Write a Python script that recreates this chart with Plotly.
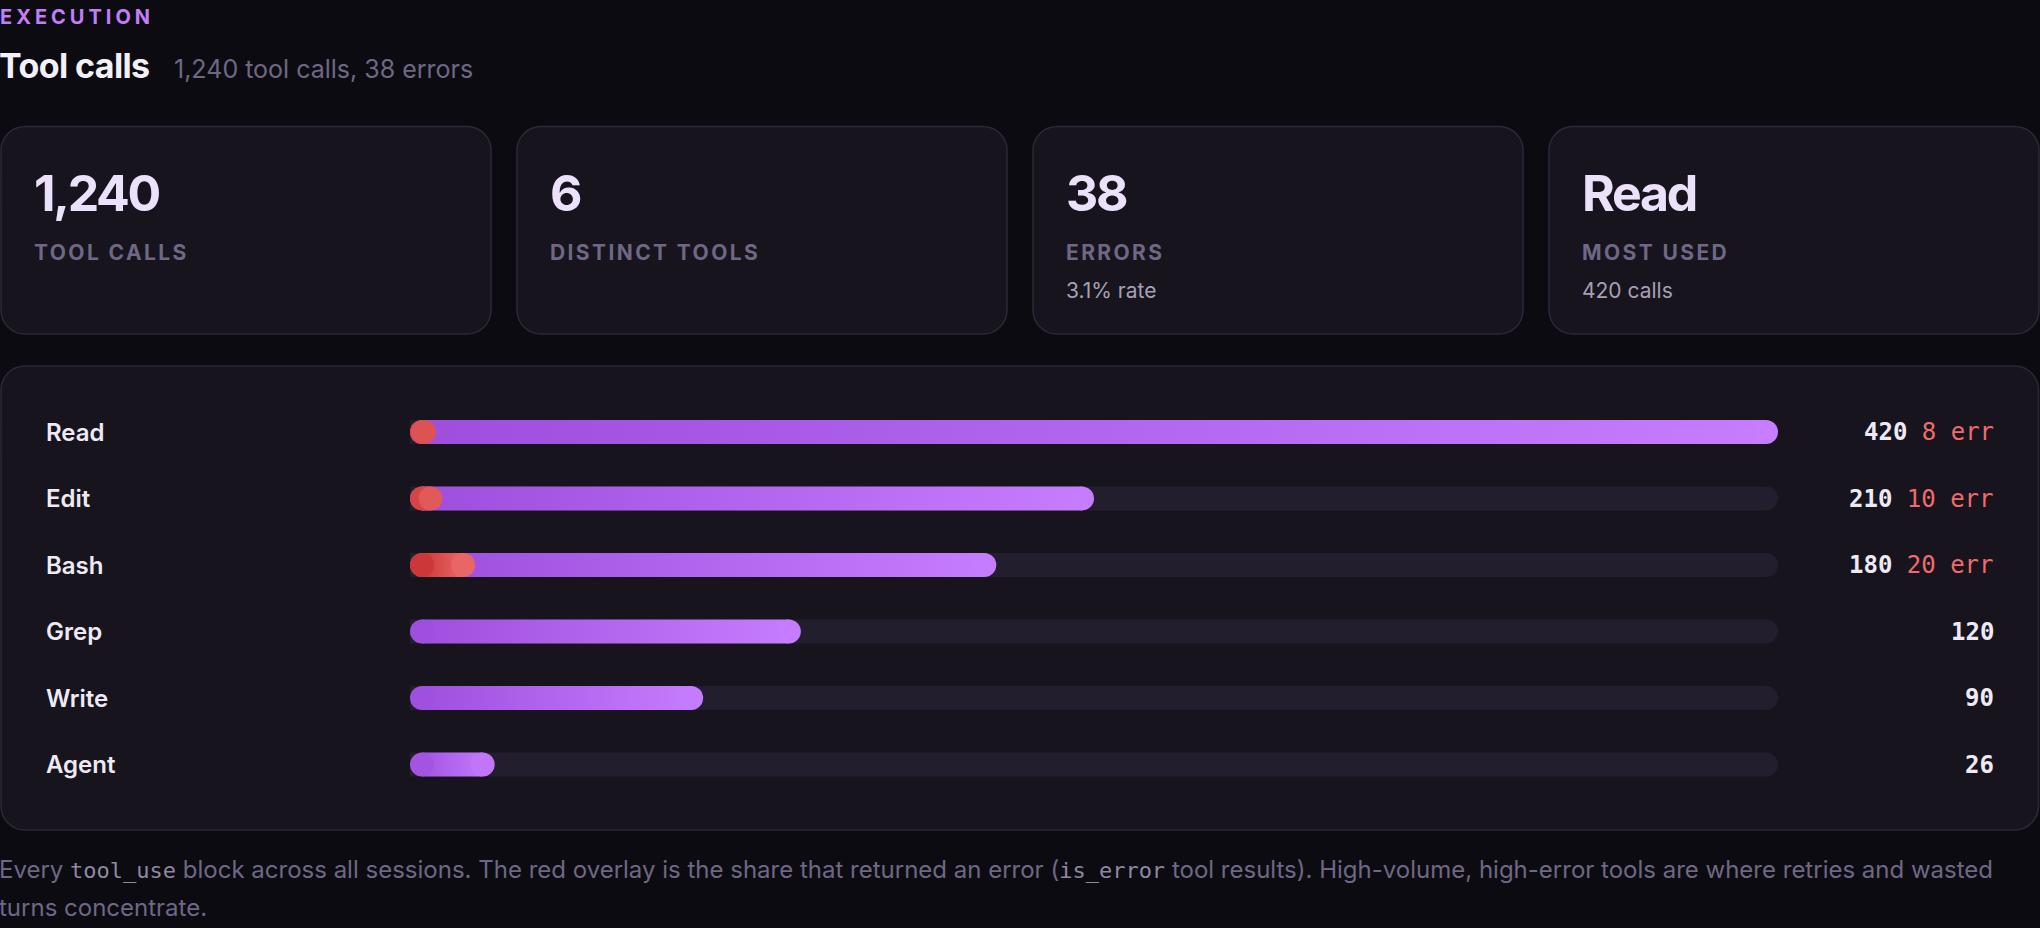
import plotly.graph_objects as go

# ---------------- data ----------------
section_label = "EXECUTION"
title_text = "Tool calls"
tools = ["Read", "Edit", "Bash", "Grep", "Write", "Agent"]
calls = [420, 210, 180, 120, 90, 26]
errors = [8, 10, 20, 0, 0, 0]
total_calls = 1240
card_labels = ["TOOL CALLS", "DISTINCT TOOLS", "ERRORS", "MOST USED"]
footnote_code = ["tool_use", "is_error"]

total_errors = sum(errors)
most_idx = calls.index(max(calls))
card_values = [f"{total_calls:,}", str(len(tools)), str(total_errors), tools[most_idx]]
card_subs = ["", "", f"{total_errors / total_calls * 100:.1f}% rate", f"{calls[most_idx]} calls"]
subtitle = f"{total_calls:,} tool calls, {total_errors} errors"

# ---------------- style ----------------
W, H = 2040, 928
BG = "#0d0b12"
CARD = "#17141e"
BORDER = "#2c2838"
TRACK = "#221e2d"
P0, P1 = "#9d4edd", "#c77dff"
R0, R1 = "#c42a2d", "#f27472"
TXT = "#eeeaf5"
MUTED = "#6e6884"
SUB = "#a6a0b6"
ERRTXT = "#f06b6b"
SANS = "Inter"
MONO = "DejaVu Sans Mono"
PADX = 3  # annotation inner padding to compensate

# bar geometry (pixels)
TRACK_X0, TRACK_X1 = 410, 1778
ROW0_Y, ROW_STEP = 432, 66.5
BAR_H = 24
n = len(tools)
kx = (TRACK_X1 - TRACK_X0) / max(calls)  # px per unit
rx = (BAR_H / 2) / kx                     # cap radius in x units
hy = (BAR_H / 2) / ROW_STEP               # half bar height in row units

y_top_px = ROW0_Y - ROW_STEP / 2
y_bot_px = ROW0_Y + ROW_STEP * (n - 1) + ROW_STEP / 2


def X(px):
    return px / W


def Y(py):
    return 1 - py / H


def hex2rgb(h):
    h = h.lstrip("#")
    return [int(h[i:i + 2], 16) for i in (0, 2, 4)]


def mix(c0, c1, t):
    a, b = hex2rgb(c0), hex2rgb(c1)
    return "rgb({},{},{})".format(*[round(a[k] + (b[k] - a[k]) * t) for k in range(3)])


def rrect(x0, y0, x1, y1, r):
    k = 0.5523 * r
    return (
        f"M {X(x0 + r)},{Y(y0)} L {X(x1 - r)},{Y(y0)} "
        f"C {X(x1 - r + k)},{Y(y0)} {X(x1)},{Y(y0 + r - k)} {X(x1)},{Y(y0 + r)} "
        f"L {X(x1)},{Y(y1 - r)} "
        f"C {X(x1)},{Y(y1 - r + k)} {X(x1 - r + k)},{Y(y1)} {X(x1 - r)},{Y(y1)} "
        f"L {X(x0 + r)},{Y(y1)} "
        f"C {X(x0 + r - k)},{Y(y1)} {X(x0)},{Y(y1 - r + k)} {X(x0)},{Y(y1 - r)} "
        f"L {X(x0)},{Y(y0 + r)} "
        f"C {X(x0)},{Y(y0 + r - k)} {X(x0 + r - k)},{Y(y0)} {X(x0 + r)},{Y(y0)} Z"
    )


fig = go.Figure()

# tracks
fig.add_trace(go.Bar(
    x=[max(calls)] * n, y=list(range(n)), orientation="h", width=BAR_H / ROW_STEP,
    marker=dict(color=TRACK, cornerradius=BAR_H / 2, line=dict(width=0)),
    hoverinfo="skip", showlegend=False,
))


def pill(values, c0, c1, name):
    cap_x, cap_y, cap_c = [], [], []
    for i, v in enumerate(values):
        if v <= 0:
            continue
        a = rx
        b = max(v - rx, rx)
        fig.add_trace(go.Scatter(
            x=[a, b, b, a, a], y=[i - hy, i - hy, i + hy, i + hy, i - hy],
            mode="lines", line=dict(width=0, color="rgba(0,0,0,0)"),
            fill="toself",
            fillgradient=dict(type="horizontal", colorscale=[[0, c0], [1, c1]], start=0, stop=v),
            hoverinfo="skip", showlegend=False, name=f"{name} {tools[i]}",
        ))
        cap_x += [a, b]
        cap_y += [i, i]
        cap_c += [mix(c0, c1, a / v), mix(c0, c1, b / v)]
    fig.add_trace(go.Scatter(
        x=cap_x, y=cap_y, mode="markers",
        marker=dict(size=BAR_H, color=cap_c, line=dict(width=0)),
        hoverinfo="skip", showlegend=False,
    ))


pill(calls, P0, P1, "calls")
pill(errors, R0, R1, "errors")

shapes = []
# cards
card_w, card_gap = 490, 26
card_y0, card_y1 = 126.5, 334
for c in range(4):
    x0 = 1 + c * (card_w + card_gap)
    shapes.append(dict(type="path", path=rrect(x0, card_y0, x0 + card_w, card_y1, 24),
                       xref="paper", yref="paper", fillcolor=CARD,
                       line=dict(color=BORDER, width=1.5), layer="below"))
# panel
shapes.append(dict(type="path", path=rrect(1, 366, 2038.5, 830, 24),
                   xref="paper", yref="paper", fillcolor=CARD,
                   line=dict(color=BORDER, width=1.5), layer="below"))

ann = []


def txt(x, y, text, size, color, weight=400, family=SANS, xanchor="left", yref="paper"):
    xp = x - PADX if xanchor == "left" else x + PADX
    ann.append(dict(x=X(xp), y=y, xref="paper", yref=yref, text=text, showarrow=False,
                    xanchor=xanchor, yanchor="middle", align=xanchor,
                    font=dict(size=size, color=color, family=family, weight=weight)))


txt(0.5, Y(16.5), f'<span style="letter-spacing:4px">{section_label}</span>', 20, "#c17ef7", 700)
txt(0, Y(65.5), f'<span style="letter-spacing:-0.6px">{title_text}</span>', 34, "#f3f0f9", 700)
txt(175, Y(68.5), subtitle, 25, MUTED, 400)

for c in range(4):
    x0 = 1 + c * (card_w + card_gap) + 34
    txt(x0, Y(193), f'<span style="letter-spacing:-2.3px">{card_values[c]}</span>', 50, "#ebe1fa", 700)
    txt(x0, Y(252), f'<span style="letter-spacing:2.4px">{card_labels[c]}</span>', 21, MUTED, 700)
    if card_subs[c]:
        txt(x0, Y(290), card_subs[c], 21, SUB, 400)

for i, t in enumerate(tools):
    txt(47, i, t, 24, TXT, 600, yref="y")
    label = f"<b>{calls[i]}</b>"
    if errors[i]:
        label += f' <span style="color:{ERRTXT}">{errors[i]} err</span>'
    txt(1993, i, label, 24, TXT, 400, family=MONO, xanchor="right", yref="y")

code_style = "font-family:'DejaVu Sans Mono';font-size:22px;color:#8e88a2"
line1 = (f'Every <span style="{code_style}">{footnote_code[0]}</span> block across all sessions. '
         f'The red overlay is the share that returned an error '
         f'(<span style="{code_style}">{footnote_code[1]}</span> tool results). '
         f'High-volume, high-error tools are where retries and wasted')
line2 = "turns concentrate."
txt(0, Y(869), line1, 24, MUTED, 400)
txt(0, Y(907), line2, 24, MUTED, 400)

fig.update_layout(
    width=W, height=H, margin=dict(l=0, r=0, t=0, b=0, pad=0),
    paper_bgcolor=BG, plot_bgcolor="rgba(0,0,0,0)",
    showlegend=False, barmode="overlay",
    xaxis=dict(domain=[X(TRACK_X0), X(TRACK_X1)], range=[0, max(calls)], visible=False, fixedrange=True),
    yaxis=dict(domain=[Y(y_bot_px), Y(y_top_px)], range=[n - 0.5, -0.5], visible=False, fixedrange=True),
    shapes=shapes, annotations=ann,
    font=dict(family=SANS),
)

fig.write_html("out.html", config={"displayModeBar": False})
